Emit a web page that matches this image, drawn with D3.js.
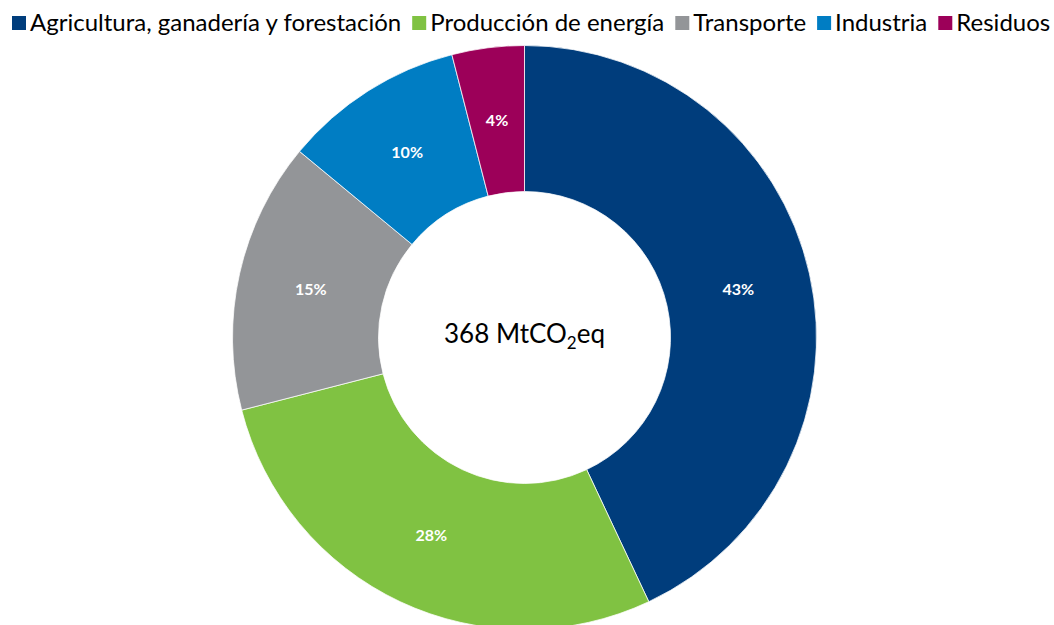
<!DOCTYPE html>
<html>
<head>
<meta charset="utf-8">
<script src="https://cdn.jsdelivr.net/npm/d3@7.9.0/dist/d3.min.js"></script>
<style>
  body { margin: 0; background: #fff; }
  svg { display: block; font-family: Lato, 'Open Sans', sans-serif; }
</style>
</head>
<body>
<div id="chart"></div>
<script>
// sectors of emissions (share of total, %)
const categories = ['Agricultura, ganadería y forestación', 'Producción de energía', 'Transporte', 'Industria', 'Residuos'];
const shares = [43, 28, 15, 10, 4];
const colors = ['#003d7c', '#80c242', '#939598', '#007dc3', '#9c0059'];
const totalLabel = '368';

const width = 1054;
const height = 625;
const cx = 524.5, cy = 337.5;
const outerR = 292, innerR = 146;

const data = categories.map((c, i) => ({ name: c, value: shares[i], color: colors[i] }));

const svg = d3.select('#chart')
  .append('svg')
  .attr('width', width)
  .attr('height', height);

const pie = d3.pie()
  .value(d => d.value)
  .sort(null);

const arc = d3.arc()
  .innerRadius(innerR)
  .outerRadius(outerR);

const g = svg.append('g').attr('transform', `translate(${cx}, ${cy})`);

const arcs = pie(data);

g.selectAll('path')
  .data(arcs)
  .join('path')
  .attr('d', arc)
  .attr('fill', d => d.data.color)
  .attr('stroke', '#fff')
  .attr('stroke-width', 0.75);

g.selectAll('text.pct')
  .data(arcs)
  .join('text')
  .attr('class', 'pct')
  .attr('transform', d => `translate(${arc.centroid(d)})`)
  .attr('text-anchor', 'middle')
  .attr('dy', '0.35em')
  .attr('fill', '#fff')
  .style('font-size', '16px')
  .style('font-weight', 'bold')
  .text(d => d.data.value + '%');

// total in the middle
const center = g.append('text')
  .attr('text-anchor', 'middle')
  .attr('y', 5)
  .style('font-size', '26px')
  .attr('fill', '#000');
center.append('tspan').text(totalLabel + ' MtCO');
center.append('tspan').text('2').attr('dy', 6).style('font-size', '17px');
center.append('tspan').text('eq').attr('dy', -6);

// legend across the top
const legend = svg.append('g').attr('class', 'legend');
let x = 12;
data.forEach(d => {
  const item = legend.append('g').attr('transform', `translate(${x}, 0)`);
  item.append('rect')
    .attr('x', 0).attr('y', 16)
    .attr('width', 14).attr('height', 14)
    .attr('fill', d.color);
  const t = item.append('text')
    .attr('x', 18).attr('y', 31)
    .style('font-size', '24px')
    .attr('fill', '#000')
    .text(d.name);
  x += 18 + t.node().getComputedTextLength() + 11;
});
</script>
</body>
</html>
